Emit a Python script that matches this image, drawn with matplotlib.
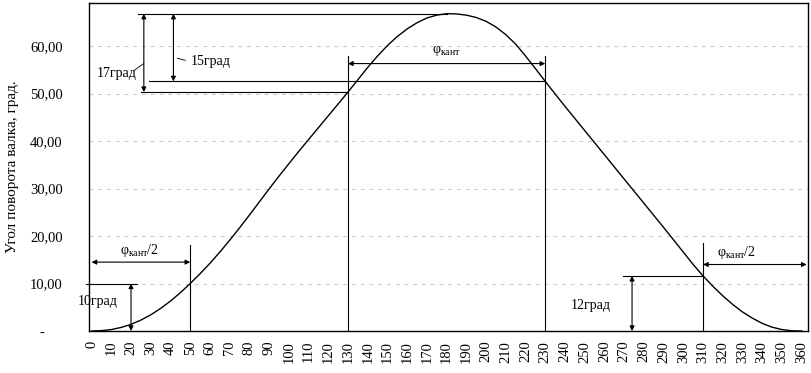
import numpy as np
import matplotlib
matplotlib.use("Agg")
import matplotlib.pyplot as plt

plt.rcParams['font.family'] = ['Liberation Serif', 'DejaVu Serif']
plt.rcParams['mathtext.fontset'] = 'custom'
plt.rcParams['mathtext.rm'] = 'Liberation Serif'
plt.rcParams['mathtext.it'] = 'Liberation Serif:italic'

# ---- data ----
angle_deg = list(range(0, 361, 5))
roll_angle = [0.0, 0.08, 0.3, 0.75, 1.4, 2.3, 3.4, 4.75, 6.3, 8.05,
              10.0, 12.05, 14.25, 16.6, 19.1, 21.7, 24.4, 27.15, 29.9, 32.6,
              35.2, 37.8, 40.3, 42.8, 45.3, 47.8, 50.3, 52.9, 55.5, 57.9,
              60.1, 62.0, 63.6, 64.9, 65.9, 66.5, 66.8, 66.75, 66.5, 66.0,
              65.2, 64.0, 62.4, 60.4, 57.9, 55.25, 52.55, 49.9, 47.3, 44.75,
              42.2, 39.65, 37.1, 34.55, 32.0, 29.45, 26.9, 24.35, 21.8, 19.2,
              16.6, 14.0, 11.6, 9.4, 7.4, 5.6, 4.0, 2.7, 1.6, 0.8,
              0.3, 0.05, 0.0]
x_ticks = list(range(0, 361, 10))
y_ticks = [0, 10, 20, 30, 40, 50, 60]
y_tick_labels = ['-     ', '10,00', '20,00', '30,00', '40,00', '50,00', '60,00']
y_label = 'Угол поворота валка, град.'

# key annotation values
peak = 66.8
v130 = 50.3
v230 = 52.55
v310 = 11.6

fig = plt.figure(figsize=(8.11, 3.73), dpi=100)
W, H = 811, 373
base_px, top_px = 331, 3
ax = fig.add_axes([89 / W, (H - base_px) / H, (808 - 89) / W, (base_px - top_px) / H])
ax.set_xlim(-1.3, 363.2)
ax.set_ylim(0, (base_px - top_px) / 4.75)

for s in ax.spines.values():
    s.set_linewidth(1.0)
    s.set_color('black')

ax.set_xticks(x_ticks)
ax.set_xticklabels([str(v) for v in x_ticks], rotation=90, fontsize=10.5)
ax.set_yticks(y_ticks)
ax.set_yticklabels(y_tick_labels, fontsize=10.5)
ax.tick_params(axis='x', length=0, pad=7)
ax.tick_params(axis='y', length=0, pad=19)

for yv in y_ticks[1:]:
    ax.axhline(yv, color='#c8c8c8', lw=0.7, ls=(0, (4, 5)), zorder=0)

ax.set_ylabel(y_label, fontsize=11)
ax.yaxis.set_label_coords(-0.098, 0.5)

ax.plot(angle_deg, roll_angle, color='black', lw=1.0, zorder=3)

LW = 0.8
def hline(y, x0, x1, **kw):
    ax.plot([x0, x1], [y, y], color='black', lw=LW, clip_on=False, **kw)

def vline(x, y0, y1, **kw):
    ax.plot([x, x], [y0, y1], color='black', lw=LW, clip_on=False, **kw)

def darrow(p0, p1):
    ax.annotate('', xy=p1, xytext=p0,
                arrowprops=dict(arrowstyle='<|-|>', color='black', lw=LW,
                                mutation_scale=7, shrinkA=0, shrinkB=0))

phi = r'$\mathrm{\varphi}_{\mathrm{кант}}$'

# 17 / 15 degree annotations
hline(peak, 23.5, 180)
hline(v230, 29, 230)
hline(v130, 25, 130)
darrow((26.5, v130), (26.5, peak))
darrow((41.5, v230), (41.5, peak))
ax.text(12.5, 54.2, '17град', fontsize=10, ha='center', va='center')
ax.plot([22, 26.5], [55.0, 56.3], color='black', lw=0.6)
ax.text(50.5, 56.8, '15град', fontsize=10, ha='left', va='center')
ax.plot([43.5, 47.5], [57.4, 57.0], color='black', lw=0.6)

# phi_kant
vline(130, 0, 57.8)
vline(230, 0, 57.8)
darrow((130, 56.3), (230, 56.3))
ax.text(180, 59.0, phi, fontsize=10, ha='center', va='center')

# left phi_kant/2 and 10 grad
vline(50, 0, 18.2)
darrow((0, 14.5), (50, 14.5))
ax.text(24.5, 16.9, phi + '/2', fontsize=10, ha='center', va='center')
hline(10, -3, 23)
darrow((20, 0), (20, 10))
ax.text(3, 6.2, '10град', fontsize=10, ha='center', va='center')

# right phi_kant/2 and 12 grad
vline(310, 0, 18.5)
darrow((310, 14.0), (362.5, 14.0))
ax.text(327, 16.6, phi + '/2', fontsize=10, ha='center', va='center')
hline(v310, 269.6, 310)
darrow((274, 0), (274, v310))
ax.text(253, 5.3, '12град', fontsize=10, ha='center', va='center')

fig.savefig('out.png', dpi=100)
